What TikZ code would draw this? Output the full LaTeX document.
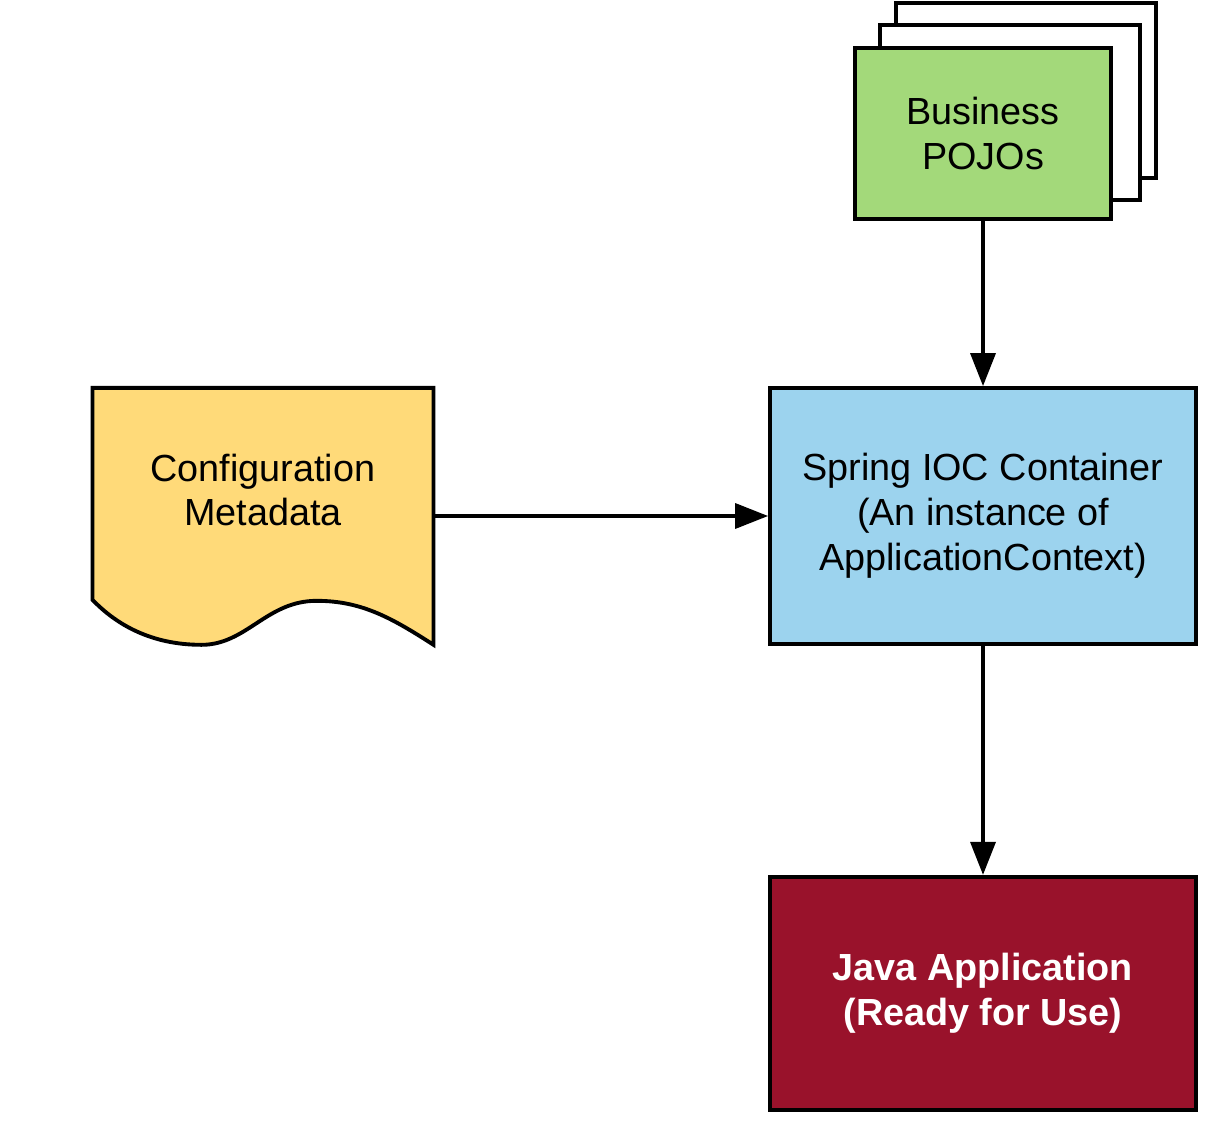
\documentclass[tikz,border=0pt]{standalone}
\usepackage{fontspec}
\setmainfont{Liberation Sans}
\usepackage{tikz}
\usetikzlibrary{arrows.meta,positioning,backgrounds}
\definecolor{pojogreen}{RGB}{163,217,122}
\definecolor{confyellow}{RGB}{255,218,121}
\definecolor{iocblue}{RGB}{156,211,238}
\definecolor{appred}{RGB}{153,18,43}
\tikzstyle{arrow} = [line width=2pt,-{Triangle[length=0.66cm,width=0.5cm]}]
\tikzstyle{box} = [rectangle, draw=black, line width=2.2pt, text centered, align=center, font=\fontsize{21.5}{25.5}\selectfont]
\tikzstyle{page} = [draw=black, fill=white, line width=2.2pt]
\tikzstyle{docshape} = [draw=black, fill=confyellow, line width=2.2pt]

\begin{document}
\begin{tikzpicture}[x=0.02cm, y=-0.02cm]
    \useasboundingbox (0,0) rectangle (1220,1128);
    \node[box, fill=iocblue, minimum width=8.52cm, minimum height=5.12cm] (ioc) at (983,516) {Spring IOC Container\\(An instance of\\ApplicationContext)};
    \node[box, fill=pojogreen, minimum width=5.12cm, minimum height=3.42cm, above=3.3cm of ioc] (pojos) {Business\\POJOs};
    \node[box, fill=appred, text=white, minimum width=8.52cm, minimum height=4.66cm, below=4.58cm of ioc, font=\fontsize{21.5}{25.5}\selectfont\bfseries] (app) {Java Application\\(Ready for Use)};
    \node[minimum width=6.8cm, minimum height=5.14cm, left=6.7cm of ioc] (config) {};

    % stacked pages behind the POJOs box
    \begin{scope}[on background layer]
        \draw[page] ([xshift=0.86cm,yshift=0.86cm]pojos.south west) rectangle ([xshift=0.86cm,yshift=0.86cm]pojos.north east);
        \draw[page] ([xshift=0.54cm,yshift=0.42cm]pojos.south west) rectangle ([xshift=0.54cm,yshift=0.42cm]pojos.north east);
    \end{scope}

    % document shape with wavy bottom
    \begin{scope}[shift={(config.south west)}]
        \draw[docshape] (0,-257) -- (341,-257) -- (341,0)
            .. controls (299,-27) and (269,-44) .. (224,-44)
            .. controls (174,-44) and (154,0) .. (109,0)
            .. controls (59,0) and (24,-20) .. (0,-45) -- cycle;
    \end{scope}
    \node[align=center, font=\fontsize{21.5}{25.5}\selectfont] (configtext) at ([yshift=0.52cm]config.center) {Configuration\\Metadata};

    \draw[arrow] (pojos) -- (ioc);
    \draw[arrow] (config.east) -- (ioc);
    \draw[arrow] (ioc) -- (app);
\end{tikzpicture}
\end{document}
